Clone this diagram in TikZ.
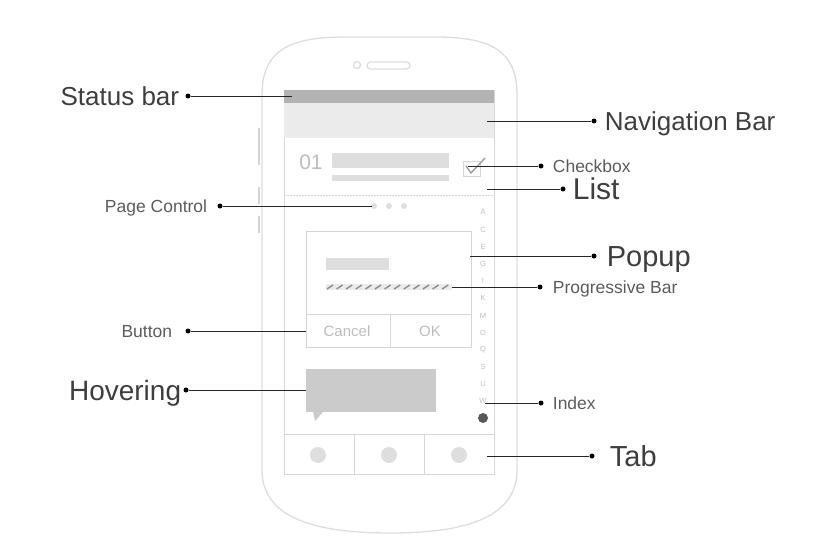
\documentclass[tikz,border=0pt]{standalone}
\usepackage{fontspec}
\setmainfont{Liberation Sans}
\usetikzlibrary{positioning}
\definecolor{shell}{HTML}{DDDDDD}
\definecolor{scr}{HTML}{D6D6D6}
\definecolor{statusgray}{HTML}{B3B3B3}
\definecolor{navgray}{HTML}{EBEBEB}
\definecolor{bargray}{HTML}{DEDEDE}
\definecolor{bubble}{HTML}{CBCBCB}
\definecolor{faint}{HTML}{BDBDBD}
\definecolor{ink}{HTML}{3E3E3E}
\definecolor{ink2}{HTML}{5C5C5C}
\tikzset{
  dot/.style={circle, fill=black, inner sep=0pt, minimum size=5pt},
  bigl/.style 2 args={font=\fontsize{#1}{#1}\selectfont, text height=#2, text depth=0pt, inner sep=0pt, text=ink},
  smalll/.style={font=\fontsize{17.5pt}{17.5pt}\selectfont, text height=12.6pt, text depth=0pt, inner sep=0pt, text=ink2},
  leader/.style={draw=black!85, line width=1pt}
}
\begin{document}
\begin{tikzpicture}[x=1pt,y=-1pt]
    \useasboundingbox (0,0) rectangle (836,554);

    \begin{scope}[draw=shell, line width=1.3pt]
        \draw (262,95) .. controls (262,50) and (290,38) .. (340,37) -- (440,37)
            .. controls (490,38) and (517,50) .. (517,95) -- (517,470)
            .. controls (517,520) and (460,533) .. (390,533)
            .. controls (320,533) and (262,520) .. (262,470) -- cycle;
        \draw (357,65) circle (3.5);
        \draw[rounded corners=3.5] (367,62) rectangle (410,69);
        \draw[scr, line width=2.2pt] (259,128) -- (259,165);
        \draw[scr, line width=2.2pt] (259,187) -- (259,204);
        \draw[scr, line width=2.2pt] (259,216) -- (259,233);
    \end{scope}

    \begin{scope}[draw=scr, line width=1pt]
        \draw (284,90) rectangle (494,474);
        \fill[statusgray] (284,90) rectangle (494,103);
        \fill[navgray] (284,103) rectangle (494,138);
        \node[text=faint, font=\fontsize{21pt}{21pt}\selectfont] (num) at (311,162) {01};
        \fill[bargray] (332,153) rectangle (449,168);
        \fill[bargray] (332,175) rectangle (449,181);
        \draw (463,161) rectangle (480,176);
        \draw[line width=1.3pt, draw=black!40] (466,166) -- (471,173) -- (485,158);
        \draw[dashed, dash pattern=on 2pt off 1pt] (284,195) -- (494,195);
        \foreach \x in {374,389,404}
            \fill[bargray] (\x,206) circle (3);
        \foreach \l/\y in {A/212,C/230,E/247,G/264,I/281,K/298,M/316,O/333,Q/350,S/367,U/384,W/401}
            \node[text=faint, font=\fontsize{7.5pt}{7.5pt}\selectfont] at (483,\y) {\l};
        \fill[black!65] (483,418) circle (5);
        \draw[fill=white] (306,231) rectangle (471,347);
        \draw (306,314) -- (471,314);
        \draw (390,314) -- (390,347);
        \fill[bargray] (326,258) rectangle (389,270);
        \fill[bargray!60] (326,284) rectangle (452,290);
        \foreach \i in {0,...,12}
            \draw[draw=black!45, line width=1.4pt] (327+\i*9.6,289) -- (333+\i*9.6,285);
        \node[text=faint, font=\fontsize{15pt}{15pt}\selectfont] (cancel) at (347,331) {Cancel};
        \node[text=faint, font=\fontsize{15pt}{15pt}\selectfont] (ok) at (430,331) {OK};
        \fill[bubble] (306,369) rectangle (436,412);
        \fill[bubble] (313,411) -- (324,411) -- (315,421) -- cycle;
        \draw (284,434) -- (494,434);
        \draw (354,434) -- (354,474);
        \draw (424,434) -- (424,474);
        \foreach \x in {318,389,459}
            \fill[bargray] (\x,455) circle (8);
    \end{scope}

    \begin{scope}
        \node[dot] (sbd) at (188,96) {};
        \node[bigl={26pt}{18.7pt}, left=6pt of sbd] (statusbar) {Status bar};
        \node[dot] (nbd) at (594,121) {};
        \node[bigl={26pt}{18.7pt}, right=8pt of nbd] (navbar) {Navigation Bar};
        \node[dot] (cbd) at (541,166) {};
        \node[smalll, right=9pt of cbd] (checkbox) {Checkbox};
        \node[dot] (lsd) at (563,189) {};
        \node[bigl={30pt}{21.5pt}, right=7pt of lsd] (list) {List};
        \node[dot] (pcd) at (220,206) {};
        \node[smalll, left=10pt of pcd] (pagectrl) {Page Control};
        \node[dot] (pud) at (594,256) {};
        \node[bigl={29pt}{20.8pt}, right=10pt of pud] (popup) {Popup};
        \node[dot] (pbd) at (540,287) {};
        \node[smalll, right=10pt of pbd] (progbar) {Progressive Bar};
        \node[dot] (btd) at (188,331) {};
        \node[smalll, left=13pt of btd] (button) {Button};
        \node[dot] (hvd) at (186,390) {};
        \node[bigl={28pt}{20.2pt}, left=2pt of hvd] (hovering) {Hovering};
        \node[dot] (ixd) at (541,403) {};
        \node[smalll, right=9pt of ixd] (index) {Index};
        \node[dot] (tbd) at (592,456) {};
        \node[bigl={29pt}{20.8pt}, right=15pt of tbd] (tab) {Tab};

        \coordinate (sbp) at (292,96);
        \coordinate (nbp) at (487,121);
        \coordinate (cbp) at (468,166);
        \coordinate (lsp) at (487,189);
        \coordinate (pcp) at (372,206);
        \coordinate (pup) at (470,256);
        \coordinate (pbp) at (452,287);
        \coordinate (btp) at (306,331);
        \coordinate (hvp) at (306,390);
        \coordinate (ixp) at (485,403);
        \coordinate (tbp) at (487,456);
    \end{scope}

    \begin{scope}
    \path [leader] (sbd) edge (sbp);
    \path [leader] (nbd) edge (nbp);
    \path [leader] (cbd) edge (cbp);
    \path [leader] (lsd) edge (lsp);
    \path [leader] (pcd) edge (pcp);
    \path [leader] (pud) edge (pup);
    \path [leader] (pbd) edge (pbp);
    \path [leader] (btd) edge (btp);
    \path [leader] (hvd) edge (hvp);
    \path [leader] (ixd) edge (ixp);
    \path [leader] (tbd) edge (tbp);
    \end{scope}

\end{tikzpicture}
\end{document}
